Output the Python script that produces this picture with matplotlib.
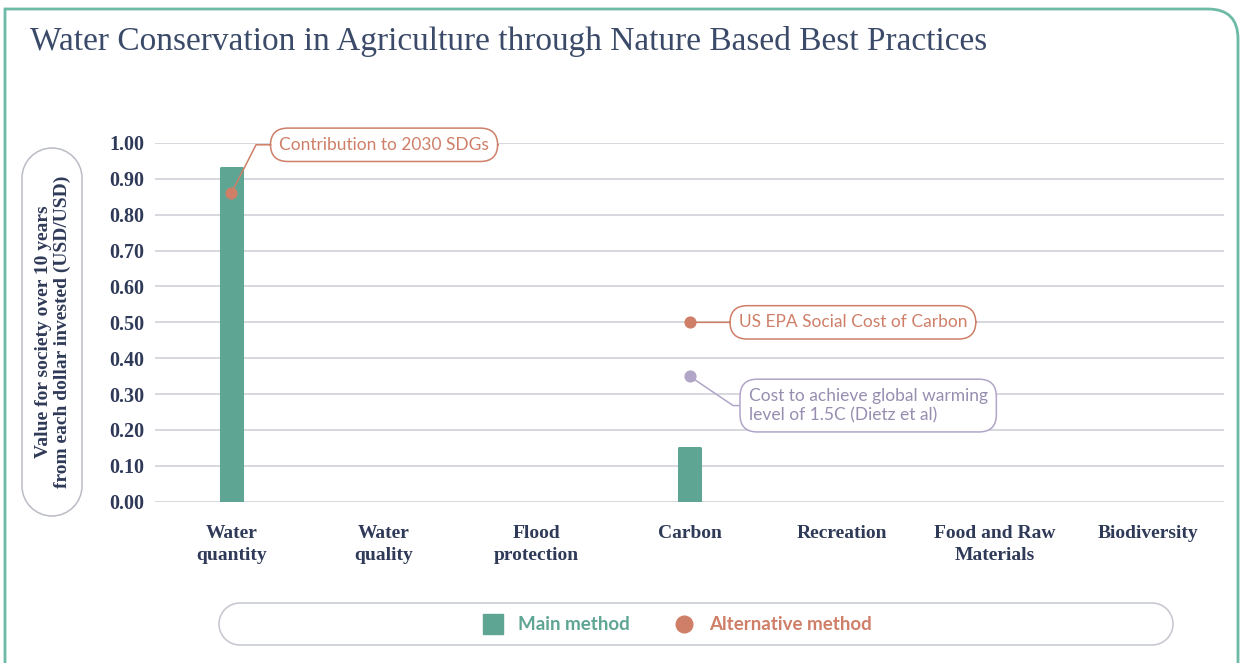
import numpy as np
import matplotlib
matplotlib.use("Agg")
import matplotlib.pyplot as plt
from matplotlib.patches import PathPatch
from matplotlib.path import Path
from matplotlib.lines import Line2D

# data
categories = ["Water\nquantity", "Water\nquality", "Flood\nprotection", "Carbon",
              "Recreation", "Food and Raw\nMaterials", "Biodiversity"]
main_values = [0.93, np.nan, np.nan, 0.15, np.nan, np.nan, np.nan]
alt_values = [0.86, np.nan, np.nan, 0.50, np.nan, np.nan, np.nan]
dietz_value = 0.35          # Carbon, cost to reach 1.5C (Dietz et al)
y_ticks = [0.0, 0.1, 0.2, 0.3, 0.4, 0.5, 0.6, 0.7, 0.8, 0.9, 1.0]

TEAL = "#5fa594"
ORANGE = "#cf7f68"
PURPLE = "#b1a5c8"
PURPLE_TXT = "#978db0"
NAVY = "#2f3a58"
GRID = "#d4d6dc"
W, H = 1241, 663

fig = plt.figure(figsize=(W / 100, H / 100), dpi=100)
fig.patch.set_facecolor("white")


def fx(px):
    return px / W


def fy(py):
    return 1 - py / H


def rounded_box(x0, y0, x1, y1, r, **kw):
    # rounded rectangle given in pixel coords (y down), drawn on the figure
    k = 0.5523 * r
    pts = [(x0 + r, y0), (x1 - r, y0),
           (x1 - r + k, y0), (x1, y0 + r - k), (x1, y0 + r),
           (x1, y1 - r),
           (x1, y1 - r + k), (x1 - r + k, y1), (x1 - r, y1),
           (x0 + r, y1),
           (x0 + r - k, y1), (x0, y1 - r + k), (x0, y1 - r),
           (x0, y0 + r),
           (x0, y0 + r - k), (x0 + r - k, y0), (x0 + r, y0)]
    codes = [Path.MOVETO, Path.LINETO, Path.CURVE4, Path.CURVE4, Path.CURVE4, Path.LINETO,
             Path.CURVE4, Path.CURVE4, Path.CURVE4, Path.LINETO,
             Path.CURVE4, Path.CURVE4, Path.CURVE4, Path.LINETO,
             Path.CURVE4, Path.CURVE4, Path.CURVE4]
    verts = [(fx(a), fy(b)) for a, b in pts]
    p = PathPatch(Path(verts, codes), transform=fig.transFigure, figure=fig, **kw)
    fig.patches.append(p)
    return p


ax = fig.add_axes([fx(155), fy(501.7), fx(1224) - fx(155), fy(143) - fy(501.7)])
x = np.arange(len(categories))

bars = ax.bar(x, main_values, width=0.14, color=TEAL, edgecolor=TEAL, linewidth=2.2, zorder=3)
for b in bars:
    b.set_joinstyle("round")
ax.scatter(x, alt_values, s=60, color=ORANGE, zorder=4, clip_on=False)
ax.scatter([3], [dietz_value], s=60, color=PURPLE, zorder=4)

ax.set_xlim(-0.5, len(categories) - 0.5)
ax.set_ylim(0, 1.0)
ax.set_yticks(y_ticks)
ax.set_yticklabels([f"{v:.2f}" for v in y_ticks])
ax.set_xticks(x)
ax.set_xticklabels(categories, linespacing=1.35)
for s in ax.spines.values():
    s.set_visible(False)
ax.grid(axis="y", color=GRID, linewidth=1.3, zorder=0)
ax.tick_params(axis="y", length=0, pad=8, labelsize=14.5, labelcolor=NAVY)
ax.tick_params(axis="x", length=0, pad=17, labelsize=14, labelcolor=NAVY)
for lab in ax.get_yticklabels() + ax.get_xticklabels():
    lab.set_fontfamily("Liberation Serif")
    lab.set_fontweight("bold")

# annotations
box_kw = dict(boxstyle="round,pad=0.5,rounding_size=1.0", fc="white", lw=1.1)
ax.annotate("Contribution to 2030 SDGs", xy=(0, alt_values[0]), xytext=(1.0, 0.995),
            ha="center", va="center", fontsize=12.5, family="Lato", color=ORANGE,
            bbox=dict(ec=ORANGE, **box_kw),
            arrowprops=dict(arrowstyle="-", color=ORANGE, lw=1.1, shrinkA=0, shrinkB=0,
                            connectionstyle="angle,angleA=0,angleB=63,rad=0"),
            zorder=5, annotation_clip=False)
ax.annotate("US EPA Social Cost of Carbon", xy=(3, alt_values[3]), xytext=(4.07, 0.50),
            ha="center", va="center", fontsize=12.5, family="Lato", color=ORANGE,
            bbox=dict(ec=ORANGE, **box_kw),
            arrowprops=dict(arrowstyle="-", color=ORANGE, lw=1.1, shrinkA=0, shrinkB=0),
            zorder=5)
ax.annotate("Cost to achieve global warming\nlevel of 1.5C (Dietz et al)", xy=(3, dietz_value),
            xytext=(4.17, 0.268), ha="center", va="center", multialignment="left",
            fontsize=12.5, family="Lato", color=PURPLE_TXT, linespacing=1.25,
            bbox=dict(ec=PURPLE, **box_kw),
            arrowprops=dict(arrowstyle="-", color=PURPLE, lw=1.1, shrinkA=0, shrinkB=0,
                            connectionstyle="angle,angleA=0,angleB=-34,rad=0"),
            zorder=5)

# title
fig.text(fx(30), fy(50), "Water Conservation in Agriculture through Nature Based Best Practices",
         fontsize=24, family="Liberation Serif", color="#3a4a68", va="baseline", ha="left")

# y label inside a pill
rounded_box(22, 148, 82, 516, 30, fc="white", ec="#b9bcc4", lw=1.1)
fig.text(fx(53), fy(332), "Value for society over 10 years\nfrom each dollar invested (USD/USD)",
         rotation=90, ha="center", va="center", fontsize=14, family="Liberation Serif",
         fontweight="bold", color=NAVY, linespacing=1.1)

# legend pill
rounded_box(219, 603, 1173, 645, 21, fc="white", ec="#c4c7ce", lw=1.1)
handles = [Line2D([], [], marker="s", ls="", markersize=15, color=TEAL),
           Line2D([], [], marker="o", ls="", markersize=12, color=ORANGE)]
fig.legend(handles, ["Main method", "Alternative method"], loc="center",
           bbox_to_anchor=(fx(673), fy(625)), ncol=2, frameon=False,
           prop=dict(family="Lato", weight="bold", size=13.5), labelcolor=[TEAL, ORANGE],
           handletextpad=0.35, columnspacing=1.9)

# outer frame with rounded top-right corner
r = 30
verts = [(fx(5), fy(700)), (fx(5), fy(9)), (fx(1238 - r), fy(9)),
         (fx(1238), fy(9)), (fx(1238), fy(9 + r)), (fx(1238), fy(700))]
codes = [Path.MOVETO, Path.LINETO, Path.LINETO, Path.CURVE3, Path.CURVE3, Path.LINETO]
fig.patches.append(PathPatch(Path(verts, codes), transform=fig.transFigure, fc="none",
                             ec="#6dbaa7", lw=2, figure=fig))

fig.savefig("out.png", dpi=100)
